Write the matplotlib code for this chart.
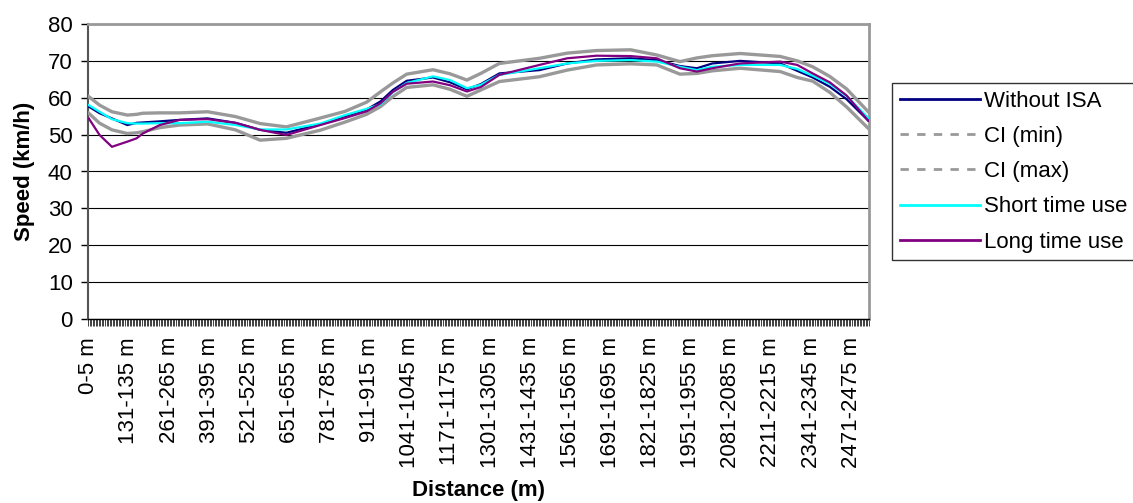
import matplotlib
matplotlib.use('Agg')
import matplotlib.pyplot as plt
from matplotlib.lines import Line2D
from matplotlib.ticker import FixedLocator

plt.rcParams['font.family'] = ['Liberation Sans', 'DejaVu Sans']

# 5 m distance bins along the road
n_bins = 506
categories = ['0-5 m'] + ['%d-%d m' % (5*i+1, 5*i+5) for i in range(1, n_bins)]
label_step = 26

pos = [0, 7, 15, 25, 31, 35, 46, 59, 77, 95, 111, 128, 150, 166, 180, 189, 197, 206,
       223, 234, 245, 254, 266, 292, 310, 329, 351, 368, 383, 394, 404, 422, 448, 459,
       469, 480, 491, 505]

without_isa = [57.6, 55.8, 54.4, 52.6, 53.2, 53.3, 53.6, 54.0, 54.4, 53.2, 51.3, 50.5,
               52.8, 55.0, 56.8, 59.0, 62.1, 64.6, 65.5, 64.2, 62.3, 63.7, 66.6, 67.5,
               69.3, 70.4, 70.7, 70.2, 68.6, 68.0, 69.3, 70.0, 69.3, 67.3, 65.5, 63.0,
               59.6, 53.8]
ci_min = [55.8, 53.1, 51.3, 50.3, 50.5, 50.8, 51.9, 52.6, 52.9, 51.3, 48.5, 49.0,
          51.2, 53.4, 55.5, 57.6, 60.3, 62.8, 63.5, 62.3, 60.4, 62.1, 64.4, 65.7,
          67.5, 68.9, 69.2, 68.9, 66.4, 66.6, 67.3, 68.0, 67.1, 65.5, 64.5, 61.5,
          57.5, 51.7]
ci_max = [60.3, 58.0, 56.2, 55.3, 55.5, 55.8, 55.9, 55.9, 56.2, 54.9, 53.0, 52.1,
          54.5, 56.3, 58.8, 61.6, 64.0, 66.4, 67.6, 66.5, 64.8, 66.6, 69.3, 70.7,
          72.1, 72.8, 73.0, 71.6, 69.8, 70.8, 71.4, 72.0, 71.2, 70.0, 68.4, 65.8,
          62.4, 56.2]
short_use = [58.0, 56.2, 54.2, 53.1, 53.0, 53.0, 53.1, 53.1, 53.5, 52.6, 51.4, 51.4,
             53.0, 55.3, 57.0, 58.2, 61.5, 64.0, 65.8, 64.8, 62.6, 63.5, 66.2, 68.0,
             69.3, 70.0, 70.2, 69.8, 68.4, 67.5, 68.4, 68.9, 68.9, 67.8, 66.0, 63.8,
             60.5, 54.5]
long_use = [54.4, 49.9, 46.7, 48.1, 49.0, 50.3, 52.6, 54.0, 54.2, 53.2, 51.3, 49.9,
            52.6, 54.5, 56.3, 58.5, 61.6, 63.8, 64.4, 63.4, 61.7, 62.9, 66.2, 68.9,
            70.7, 71.4, 71.3, 70.7, 68.0, 67.1, 68.0, 69.3, 69.8, 68.9, 66.6, 64.2,
            60.6, 53.8]

navy = '#000080'
grey = '#999999'
cyan = '#00ffff'
purple = '#800080'

fig = plt.figure(figsize=(11.33, 5.03), dpi=100)
ax = fig.add_axes([88/1133, 1-319/503, (869-88)/1133, (319-24)/503])

ax.plot(pos, without_isa, color=navy, lw=1.6, zorder=3)
ax.plot(pos, ci_min, color=grey, lw=2.4, zorder=3)
ax.plot(pos, ci_max, color=grey, lw=2.4, zorder=3)
ax.plot(pos, short_use, color=cyan, lw=1.6, zorder=4)
ax.plot(pos, long_use, color=purple, lw=1.6, zorder=5)

ax.set_xlim(-0.5, n_bins - 0.5)
ax.set_ylim(0, 80)
ax.set_yticks(range(0, 81, 10))
ax.yaxis.grid(True, color='black', lw=0.8)
ax.set_axisbelow(True)

lab_pos = list(range(0, n_bins, label_step))
ax.set_xticks(lab_pos)
ax.set_xticklabels([categories[i] for i in lab_pos], rotation=90)
ax.xaxis.set_minor_locator(FixedLocator([i - 0.5 for i in range(n_bins + 1)]))
ax.tick_params(axis='x', which='major', length=0, pad=13, labelsize=16)
ax.tick_params(axis='x', which='minor', length=5, width=0.6, color='#222222')
ax.tick_params(axis='y', length=5, width=1, pad=6, labelsize=16)

ax.spines['left'].set_color('#555555')
ax.spines['left'].set_linewidth(1.5)
ax.spines['bottom'].set_color('black')
ax.spines['bottom'].set_linewidth(1.0)
for s in ('top', 'right'):
    ax.spines[s].set_color('#999999')
    ax.spines[s].set_linewidth(2.0)

ax.set_ylabel('Speed (km/h)', fontsize=16, fontweight='bold', labelpad=9)
ax.set_xlabel('Distance (m)', fontsize=16, fontweight='bold', labelpad=8)

handles = [
    Line2D([], [], color=navy, lw=2),
    Line2D([], [], color=grey, lw=2, ls=(0, (3, 3))),
    Line2D([], [], color=grey, lw=2, ls=(0, (3, 3))),
    Line2D([], [], color=cyan, lw=2),
    Line2D([], [], color=purple, lw=2),
]
labels = ['Without ISA', 'CI (min)', 'CI (max)', 'Short time use', 'Long time use']
leg = fig.legend(handles, labels, loc='upper left', bbox_to_anchor=(892/1133, 1-83/503),
                 fontsize=16, frameon=True, fancybox=False, borderaxespad=0,
                 handlelength=3.6, handletextpad=0.2, labelspacing=0.64, borderpad=0.35)
leg.get_frame().set_edgecolor('black')
leg.get_frame().set_linewidth(1.0)

fig.savefig('out.png', dpi=100)
